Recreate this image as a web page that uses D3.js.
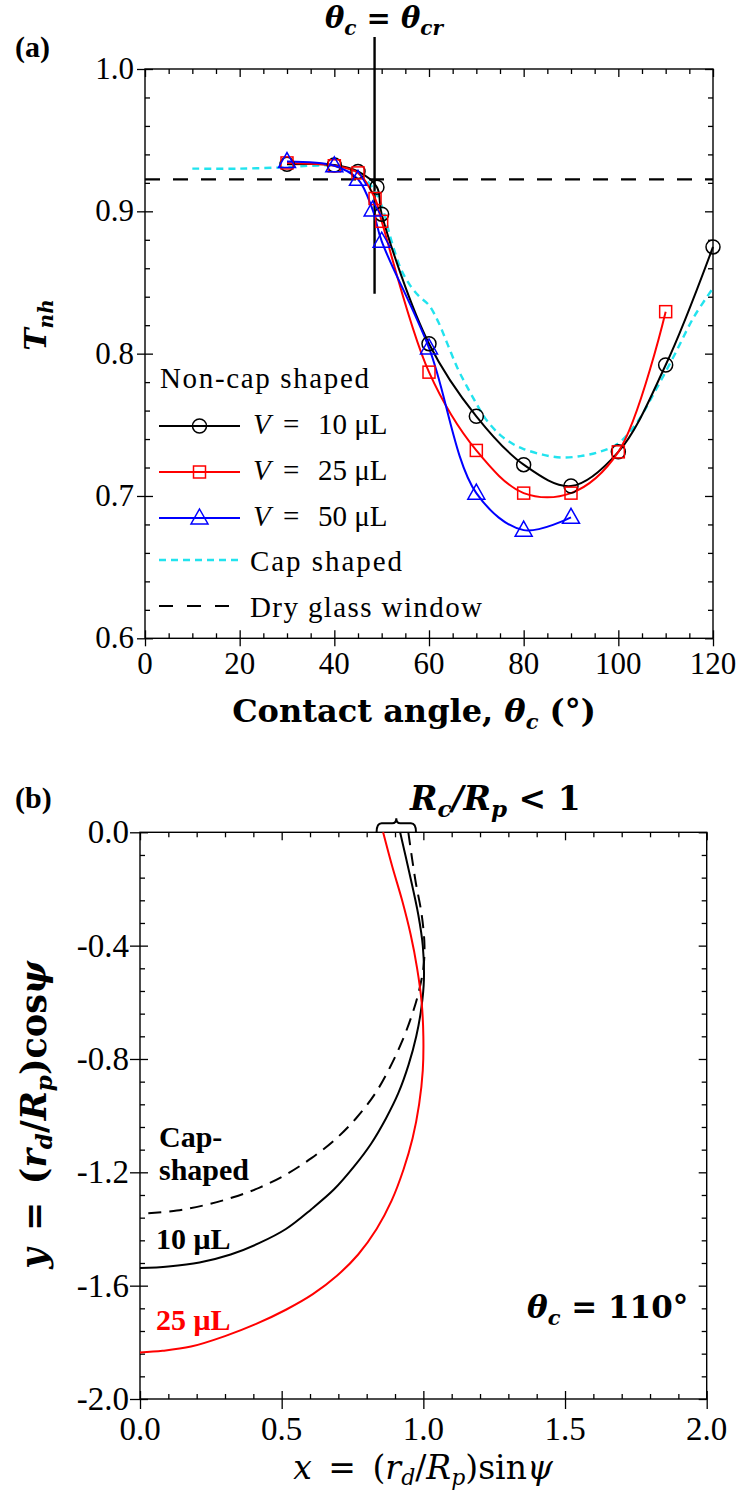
<!DOCTYPE html>
<html><head><meta charset="utf-8">
<script src="https://cdn.jsdelivr.net/npm/d3@7"></script>
<style>body{margin:0;background:#fff} svg{display:block}</style>
</head><body>
<svg id="chart" width="738" height="1498"></svg>
<script>
// ---------------- Panel (a) data ----------------
const theta10 = [30, 40, 45, 49, 50, 60, 70, 80, 90, 100, 110, 120];
const T10     = [0.933, 0.9325, 0.928, 0.917, 0.898, 0.807, 0.756, 0.722, 0.707, 0.731, 0.792, 0.875];
const theta25 = [30, 40, 45, 48.6, 50, 60, 70, 80, 90, 100, 110];
const T25     = [0.934, 0.932, 0.927, 0.909, 0.893, 0.787, 0.732, 0.702, 0.702, 0.731, 0.8295];
const theta50 = [30, 40, 45, 48.1, 50, 60, 70, 80, 90];
const T50     = [0.935, 0.932, 0.9225, 0.901, 0.879, 0.804, 0.702, 0.676, 0.685];
const thetaCap = [10, 20, 30, 35, 40, 45, 48, 50, 52, 54, 56, 58, 60, 62, 64, 66, 68, 70, 72, 75, 78, 80, 84, 88, 92, 96, 100, 104, 108, 112, 116, 120];
const TCap     = [0.930, 0.930, 0.931, 0.932, 0.932, 0.927, 0.917, 0.904, 0.880, 0.860, 0.848, 0.840, 0.834, 0.822, 0.806, 0.790, 0.777, 0.765, 0.754, 0.743, 0.736, 0.733, 0.729, 0.727, 0.728, 0.731, 0.737, 0.752, 0.775, 0.800, 0.826, 0.846];
const dryGlassT = 0.9225;
const thetaCr = 48.5;
const thetaCrSpan = [0.842, 1.0225];
const xTicksA = [0, 20, 40, 60, 80, 100, 120];
const yTicksA = [0.6, 0.7, 0.8, 0.9, 1.0];
const xLabelsA = ["0", "20", "40", "60", "80", "100", "120"];
const yLabelsA = ["0.6", "0.7", "0.8", "0.9", "1.0"];

// ---------------- Panel (b) data ----------------
const capX = [0.947, 0.972, 0.994, 1.004, 1.0, 0.982, 0.958, 0.924, 0.882, 0.828, 0.762, 0.688, 0.605, 0.515, 0.424, 0.329, 0.232, 0.13, 0.0];
const capY = [0.0, -0.17, -0.29, -0.40, -0.48, -0.57, -0.65, -0.74, -0.83, -0.925, -1.01, -1.085, -1.15, -1.208, -1.253, -1.288, -1.315, -1.335, -1.346];
const v10X = [0.918, 0.95, 0.982, 0.998, 1.002, 0.993, 0.975, 0.948, 0.912, 0.868, 0.815, 0.755, 0.685, 0.605, 0.515, 0.42, 0.32, 0.21, 0.10, 0.0];
const v10Y = [0.0, -0.14, -0.29, -0.40, -0.52, -0.62, -0.72, -0.82, -0.92, -1.01, -1.10, -1.18, -1.26, -1.33, -1.40, -1.45, -1.49, -1.518, -1.532, -1.538];
const v25X = [0.858, 0.89, 0.925, 0.955, 0.978, 0.994, 1.0, 0.998, 0.985, 0.962, 0.93, 0.888, 0.835, 0.77, 0.695, 0.61, 0.515, 0.41, 0.30, 0.18, 0.08, 0.0];
const v25Y = [0.0, -0.12, -0.24, -0.36, -0.48, -0.60, -0.72, -0.84, -0.96, -1.08, -1.19, -1.30, -1.40, -1.49, -1.565, -1.63, -1.685, -1.735, -1.778, -1.815, -1.83, -1.836];
const xTicksB = [0, 0.5, 1.0, 1.5, 2.0];
const yTicksB = [0, -0.4, -0.8, -1.2, -1.6, -2.0];
const xLabelsB = ["0.0", "0.5", "1.0", "1.5", "2.0"];
const yLabelsB = ["0.0", "-0.4", "-0.8", "-1.2", "-1.6", "-2.0"];

const svg = d3.select("#chart");
const SERIF = "'Liberation Serif', 'Times New Roman', serif";
const DSERIF = "'DejaVu Serif', serif";

// scales
const xA = d3.scaleLinear().domain([0, 120]).range([145, 713]);
const yA = d3.scaleLinear().domain([0.6, 1.0]).range([638.3, 69]);
const xB = d3.scaleLinear().domain([0, 2]).range([140, 706.7]);
const yB = d3.scaleLinear().domain([-2, 0]).range([1399, 832.3]);

function frame(x, y, xt, xm, yt, ym, out, inn, mn) {
  const [x0, x1] = x.range(); const [y0, y1] = y.range();
  const g = svg.append("g");
  const ax = (gen, tr) => {
    const a = g.append("g").attr("transform", tr).call(gen);
    a.select(".domain").remove();
    a.selectAll("text").remove();
    a.selectAll("line").attr("stroke", "#000").attr("stroke-width", 1.3);
  };
  ax(d3.axisBottom(x).tickValues(xt).tickSize(out), `translate(0,${y0})`);
  ax(d3.axisBottom(x).tickValues(xt).tickSize(-inn), `translate(0,${y0})`);
  ax(d3.axisBottom(x).tickValues(xm).tickSize(-mn), `translate(0,${y0})`);
  ax(d3.axisTop(x).tickValues(xt).tickSize(-inn), `translate(0,${y1})`);
  ax(d3.axisTop(x).tickValues(xm).tickSize(-mn), `translate(0,${y1})`);
  ax(d3.axisLeft(y).tickValues(yt).tickSize(out), `translate(${x0},0)`);
  ax(d3.axisLeft(y).tickValues(yt).tickSize(-inn), `translate(${x0},0)`);
  ax(d3.axisLeft(y).tickValues(ym).tickSize(-mn), `translate(${x0},0)`);
  ax(d3.axisRight(y).tickValues(yt).tickSize(-inn), `translate(${x1},0)`);
  ax(d3.axisRight(y).tickValues(ym).tickSize(-mn), `translate(${x1},0)`);
  g.append("rect").attr("x", x0).attr("y", y1).attr("width", x1 - x0).attr("height", y0 - y1)
    .attr("fill", "none").attr("stroke", "#000").attr("stroke-width", 1.4);
  return g;
}

// ================= Panel (a) =================
const minorXA = d3.range(0, 121, 5).filter(v => v % 20 !== 0);
const minorYA = d3.range(0, 21, 1).map(i => 0.6 + i * 0.02).filter((v, i) => i % 5 !== 0);
frame(xA, yA, xTicksA, minorXA, yTicksA, minorYA, 8, 8, 5);

svg.append("g").selectAll("text").data(xTicksA).join("text")
  .attr("x", d => xA(d)).attr("y", 674).attr("text-anchor", "middle")
  .attr("font-family", SERIF).attr("font-size", 31).text((d, i) => xLabelsA[i]);
svg.append("g").selectAll("text").data(yTicksA).join("text")
  .attr("x", 134).attr("y", d => yA(d) + 10).attr("text-anchor", "end")
  .attr("font-family", SERIF).attr("font-size", 31).text((d, i) => yLabelsA[i]);

// dry glass line
svg.append("line").attr("x1", xA(0)).attr("x2", xA(120)).attr("y1", yA(dryGlassT)).attr("y2", yA(dryGlassT))
  .attr("stroke", "#000").attr("stroke-width", 2.2).attr("stroke-dasharray", "15,13");
// critical angle line
svg.append("line").attr("x1", xA(thetaCr)).attr("x2", xA(thetaCr)).attr("y1", yA(thetaCrSpan[0])).attr("y2", yA(thetaCrSpan[1]))
  .attr("stroke", "#000").attr("stroke-width", 2.4);

const lineA = d3.line().curve(d3.curveCatmullRom.alpha(0.5));
const pts = (xs, ys) => xs.map((v, i) => [xA(v), yA(ys[i])]);

svg.append("path").attr("d", lineA(pts(thetaCap, TCap))).attr("fill", "none")
  .attr("stroke", "#22e3ee").attr("stroke-width", 2.4).attr("stroke-dasharray", "7,5");

const seriesA = [
  {xs: theta10, ys: T10, color: "#000000", m: "circle"},
  {xs: theta25, ys: T25, color: "#ff0000", m: "square"},
  {xs: theta50, ys: T50, color: "#0000ff", m: "triangle"}
];
function marker(g, m, cx, cy, color) {
  if (m === "circle") g.append("circle").attr("cx", cx).attr("cy", cy).attr("r", 7)
    .attr("fill", "none").attr("stroke", color).attr("stroke-width", 1.5);
  else if (m === "square") g.append("rect").attr("x", cx - 6).attr("y", cy - 6).attr("width", 12).attr("height", 12)
    .attr("fill", "none").attr("stroke", color).attr("stroke-width", 1.5);
  else g.append("path").attr("d", `M${cx},${cy - 9}L${cx + 8.5},${cy + 6}L${cx - 8.5},${cy + 6}Z`)
    .attr("fill", "none").attr("stroke", color).attr("stroke-width", 1.5);
}
seriesA.forEach(s => {
  svg.append("path").attr("d", lineA(pts(s.xs, s.ys))).attr("fill", "none")
    .attr("stroke", s.color).attr("stroke-width", 2);
});
seriesA.forEach(s => {
  const g = svg.append("g");
  s.xs.forEach((v, i) => marker(g, s.m, xA(v), yA(s.ys[i]), s.color));
});

// legend (a)
const leg = svg.append("g").attr("font-family", SERIF).attr("font-size", 29);
leg.append("text").attr("x", 160).attr("y", 388).attr("textLength", 209).attr("lengthAdjust", "spacing").text("Non-cap shaped");
const legRows = [
  {y: 426, color: "#000000", m: "circle", v: "10"},
  {y: 472, color: "#ff0000", m: "square", v: "25"},
  {y: 518, color: "#0000ff", m: "triangle", v: "50"}
];
legRows.forEach(r => {
  leg.append("line").attr("x1", 159).attr("x2", 240).attr("y1", r.y).attr("y2", r.y).attr("stroke", r.color).attr("stroke-width", 2);
  marker(leg, r.m, 199.5, r.y, r.color);
  const t = leg.append("text").attr("x", 253).attr("y", r.y + 8);
  t.append("tspan").attr("font-style", "italic").text("V");
  t.append("tspan").attr("x", 283).text("=");
  t.append("tspan").attr("x", 318).text(r.v + " μL");
});
leg.append("line").attr("x1", 159).attr("x2", 240).attr("y1", 560).attr("y2", 560)
  .attr("stroke", "#22e3ee").attr("stroke-width", 2.4).attr("stroke-dasharray", "7,5");
leg.append("text").attr("x", 250).attr("y", 571).attr("textLength", 152).attr("lengthAdjust", "spacing").text("Cap shaped");
leg.append("line").attr("x1", 159).attr("x2", 229).attr("y1", 606).attr("y2", 606)
  .attr("stroke", "#000").attr("stroke-width", 2.2).attr("stroke-dasharray", "14,14");
leg.append("text").attr("x", 250).attr("y", 617).attr("textLength", 232).attr("lengthAdjust", "spacing").text("Dry glass window");

// labels (a)
svg.append("text").attr("x", 15).attr("y", 57).attr("font-family", SERIF).attr("font-weight", "bold").attr("font-size", 30).text("(a)");
const ttl = svg.append("text").attr("x", 384).attr("y", 28).attr("text-anchor", "middle")
  .attr("font-family", DSERIF).attr("font-weight", "bold").attr("font-style", "italic").attr("font-size", 29);
ttl.append("tspan").text("θ");
ttl.append("tspan").attr("dy", 7).attr("font-size", 20).text("c");
ttl.append("tspan").attr("dy", -7).text(" = θ");
ttl.append("tspan").attr("dy", 7).attr("font-size", 20).text("cr");

const xlabA = svg.append("text").attr("x", 414).attr("y", 722).attr("text-anchor", "middle")
  .attr("font-family", DSERIF).attr("font-weight", "bold").attr("font-size", 32);
xlabA.append("tspan").text("Contact angle, ");
xlabA.append("tspan").attr("font-style", "italic").text("θ");
xlabA.append("tspan").attr("dy", 7).attr("font-size", 21).attr("font-style", "italic").text("c");
xlabA.append("tspan").attr("dy", -7).text(" (°)");

const ylabA = svg.append("text").attr("transform", "translate(46,325) rotate(-90)").attr("text-anchor", "middle")
  .attr("font-family", DSERIF).attr("font-weight", "bold").attr("font-style", "italic").attr("font-size", 30);
ylabA.append("tspan").text("T");
ylabA.append("tspan").attr("dy", 7).attr("font-size", 20).text("nh");

// ================= Panel (b) =================
const minorXB = d3.range(0, 21, 1).map(i => i * 0.1).filter((v, i) => i % 5 !== 0);
const minorYB = d3.range(0, 26, 1).map(i => -i * 0.08).filter((v, i) => i % 5 !== 0);
frame(xB, yB, xTicksB, minorXB, yTicksB, minorYB, 10, 8, 5);

svg.append("g").selectAll("text").data(xTicksB).join("text")
  .attr("x", d => xB(d)).attr("y", 1440).attr("text-anchor", "middle")
  .attr("font-family", SERIF).attr("font-size", 33).text((d, i) => xLabelsB[i]);
svg.append("g").selectAll("text").data(yTicksB).join("text")
  .attr("x", 129).attr("y", d => yB(d) + 11).attr("text-anchor", "end")
  .attr("font-family", SERIF).attr("font-size", 33).text((d, i) => yLabelsB[i]);

const lineB = d3.line().curve(d3.curveCatmullRom.alpha(0.5));
const ptsB = (xs, ys) => xs.map((v, i) => [xB(v), yB(ys[i])]);
svg.append("path").attr("d", lineB(ptsB(capX, capY))).attr("fill", "none").attr("stroke", "#000")
  .attr("stroke-width", 2).attr("stroke-dasharray", "13,8");
svg.append("path").attr("d", lineB(ptsB(v10X, v10Y))).attr("fill", "none").attr("stroke", "#000").attr("stroke-width", 2);
svg.append("path").attr("d", lineB(ptsB(v25X, v25Y))).attr("fill", "none").attr("stroke", "#ff0000").attr("stroke-width", 2);

// brace
const bx0 = xB(0.835), bx1 = xB(0.974), bm = (bx0 + bx1) / 2, by = yB(0);
svg.append("path").attr("d",
  `M${bx0},${by} Q${bx0},${by - 9} ${bx0 + 5},${by - 9} L${bm - 4},${by - 9} Q${bm},${by - 9} ${bm},${by - 14} Q${bm},${by - 9} ${bm + 4},${by - 9} L${bx1 - 5},${by - 9} Q${bx1},${by - 9} ${bx1},${by}`)
  .attr("fill", "none").attr("stroke", "#000").attr("stroke-width", 2);

svg.append("text").attr("x", 15).attr("y", 808).attr("font-family", SERIF).attr("font-weight", "bold").attr("font-size", 30).text("(b)");
const rc = svg.append("text").attr("x", 410).attr("y", 810)
  .attr("font-family", DSERIF).attr("font-weight", "bold").attr("font-style", "italic").attr("font-size", 33);
rc.append("tspan").text("R");
rc.append("tspan").attr("dy", 7).attr("font-size", 23).text("c");
rc.append("tspan").attr("dy", -7).text("/R");
rc.append("tspan").attr("dy", 7).attr("font-size", 23).text("p");
rc.append("tspan").attr("dy", -7).attr("font-style", "normal").text(" < 1");

const lblB = svg.append("g").attr("font-family", SERIF).attr("font-weight", "bold").attr("font-size", 30);
lblB.append("text").attr("x", 159).attr("y", 1147).text("Cap-");
lblB.append("text").attr("x", 159).attr("y", 1180).text("shaped");
lblB.append("text").attr("x", 156).attr("y", 1249).text("10 μL");
lblB.append("text").attr("x", 156).attr("y", 1330).attr("fill", "#ff0000").text("25 μL");

const th = svg.append("text").attr("x", 527).attr("y", 1318)
  .attr("font-family", DSERIF).attr("font-weight", "bold").attr("font-style", "italic").attr("font-size", 31);
th.append("tspan").text("θ");
th.append("tspan").attr("dy", 7).attr("font-size", 21).text("c");
th.append("tspan").attr("dy", -7).attr("font-style", "normal").text(" = 110°");

const xlabB = svg.append("text").attr("x", 423).attr("y", 1479).attr("text-anchor", "middle")
  .attr("font-family", DSERIF).attr("font-size", 33);
xlabB.append("tspan").attr("font-style", "italic").text("x");
xlabB.append("tspan").text("\u2002=\u2002(");
xlabB.append("tspan").attr("font-style", "italic").text("r");
xlabB.append("tspan").attr("dy", 6).attr("font-size", 22).attr("font-style", "italic").text("d");
xlabB.append("tspan").attr("dy", -6).text("/");
xlabB.append("tspan").attr("font-style", "italic").text("R");
xlabB.append("tspan").attr("dy", 6).attr("font-size", 22).attr("font-style", "italic").text("p");
xlabB.append("tspan").attr("dy", -6).text(")sin");
xlabB.append("tspan").attr("font-style", "italic").text("ψ");

const ylabB = svg.append("text").attr("transform", "translate(46,1115) rotate(-90)").attr("text-anchor", "middle")
  .attr("font-family", DSERIF).attr("font-weight", "bold").attr("font-size", 35);
ylabB.append("tspan").attr("font-style", "italic").text("y");
ylabB.append("tspan").text("\u2002=\u2002(");
ylabB.append("tspan").attr("font-style", "italic").text("r");
ylabB.append("tspan").attr("dy", 6).attr("font-size", 23).attr("font-style", "italic").text("d");
ylabB.append("tspan").attr("dy", -6).text("/");
ylabB.append("tspan").attr("font-style", "italic").text("R");
ylabB.append("tspan").attr("dy", 6).attr("font-size", 23).attr("font-style", "italic").text("p");
ylabB.append("tspan").attr("dy", -6).text(")cos");
ylabB.append("tspan").attr("font-style", "italic").text("ψ");
</script>
</body></html>
